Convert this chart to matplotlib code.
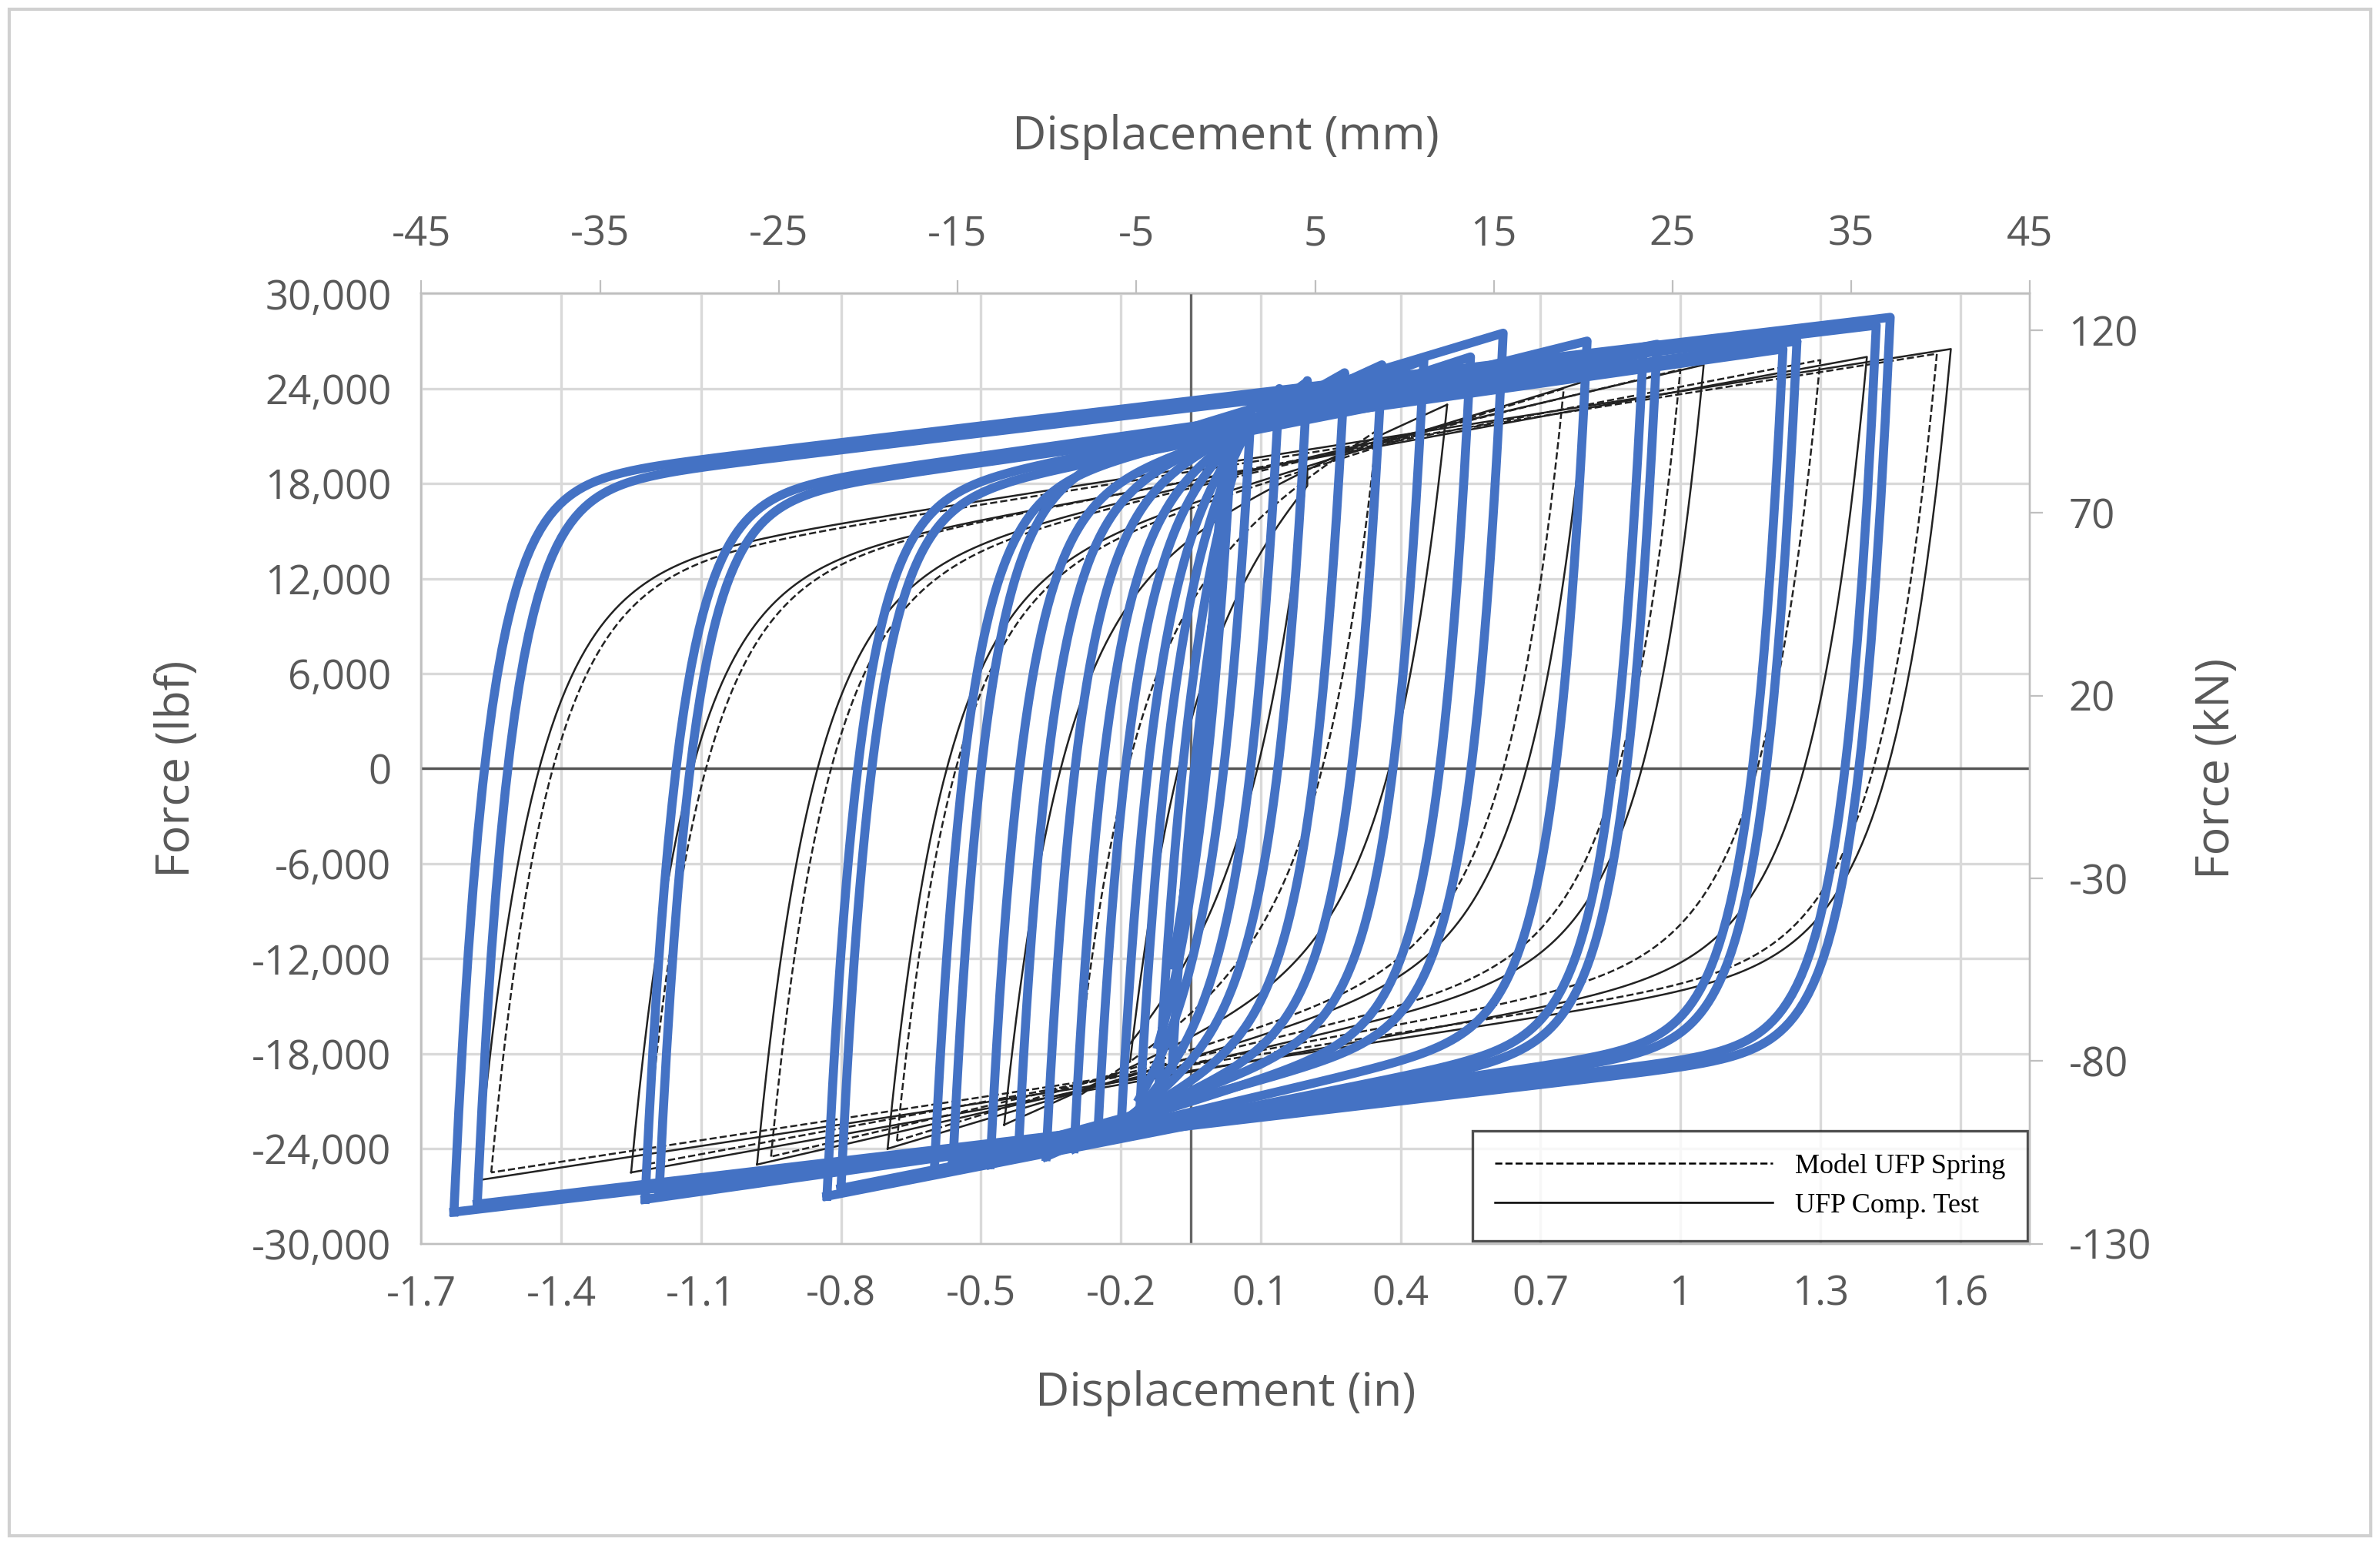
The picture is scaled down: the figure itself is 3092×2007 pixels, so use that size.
import numpy as np
import matplotlib
matplotlib.use("Agg")
import matplotlib.pyplot as plt
from matplotlib.patches import Rectangle
from matplotlib.lines import Line2D

plt.rcParams['font.family'] = ['Open Sans', 'DejaVu Sans']
plt.rcParams['axes.unicode_minus'] = False

# blue model loops: negative peak disp (in), positive peak disp (in), peak +force, peak -force (lbf)
blue_xmin = [-1.63, -1.58, -1.22, -1.19, -0.83, -0.80, -0.60, -0.56, -0.48, -0.42, -0.36, -0.30, -0.25, -0.20, -0.16, -0.12, -0.09]
blue_xmax = [1.45, 1.42, 1.25, 1.22, 0.95, 0.92, 0.80, 0.62, 0.55, 0.45, 0.36, 0.28, 0.20, 0.14, 0.08, 0.04, 0.02]
blue_fp = [28500, 28000, 27000, 26500, 26800, 26200, 27000, 27500, 26000, 25800, 25500, 25000, 24500, 24000, 23000, 22000, 20000]
blue_fn = [-28000, -27500, -27200, -26800, -27000, -26500, -25500, -25000, -25000, -24500, -24500, -24000, -23500, -23000, -22000, -21000, -19000]

# black scanned test loops
test_xmin = [-1.58, -1.55, -1.25, -1.22, -0.98, -0.95, -0.70, -0.68, -0.45, -0.30, -0.18]
test_xmax = [1.58, 1.55, 1.40, 1.30, 1.05, 1.00, 0.80, 0.75, 0.50, 0.35, 0.20]
test_fp = [26500, 26200, 26000, 25800, 25500, 25200, 24500, 24000, 23000, 21500, 19000]
test_fn = [-26000, -25500, -25500, -25000, -25000, -24500, -24000, -23500, -22500, -21000, -18500]

in_ticks = [-1.7, -1.4, -1.1, -0.8, -0.5, -0.2, 0.1, 0.4, 0.7, 1.0, 1.3, 1.6]
in_labels = ['-1.7', '-1.4', '-1.1', '-0.8', '-0.5', '-0.2', '0.1', '0.4', '0.7', '1', '1.3', '1.6']
mm_ticks = [-45, -35, -25, -15, -5, 5, 15, 25, 35, 45]
lbf_ticks = [-30000, -24000, -18000, -12000, -6000, 0, 6000, 12000, 18000, 24000, 30000]
kn_ticks = [-130, -80, -30, 20, 70, 120]


def loop(xmin, xmax, fp, fn, w=0.07, r=0.62):
    x = np.linspace(xmin, xmax, 300)
    up_line = r * fp + (fp - r * fp) * (x - xmin) / (xmax - xmin)
    up = up_line - (up_line[0] - fn) * np.exp(-(x - xmin) / w)
    dn_line = fn + (r * fn - fn) * (x - xmin) / (xmax - xmin)
    dn = dn_line + (fp - dn_line[-1]) * np.exp(-(xmax - x) / w)
    return np.r_[x, x[::-1]], np.r_[up, dn[::-1]]


fig = plt.figure(figsize=(15.46, 10.035), dpi=200)
fig.patches.append(Rectangle((0.004, 0.006), 0.992, 0.988, transform=fig.transFigure,
                             fill=False, edgecolor='#d0d0d0', linewidth=1.5))
ax = fig.add_axes([0.177, 0.195, 0.676, 0.615])
ax.set_xlim(-1.7, 1.75)
ax.set_ylim(-30000, 30000)
gray = '#595959'

for t in in_ticks:
    ax.axvline(t, color='#d9d9d9', lw=1.2, zorder=0)
for t in lbf_ticks:
    ax.axhline(t, color='#d9d9d9', lw=1.2, zorder=0)
ax.axhline(0, color='#555555', lw=1.2, zorder=1)
ax.axvline(-0.05, color='#666666', lw=1.2, zorder=1)

for i, (a, b, p, n) in enumerate(zip(test_xmin, test_xmax, test_fp, test_fn)):
    xs, ys = loop(a, b, p, n, w=0.12, r=0.45)
    ax.plot(xs, ys, color='#222222', lw=0.9, ls='--' if i % 2 else '-', zorder=2)

for a, b, p, n in zip(blue_xmin, blue_xmax, blue_fp, blue_fn):
    xs, ys = loop(a, b, p, n)
    ax.plot(xs, ys, color='#4472C4', lw=4.2, zorder=3)

leg = ax.legend(handles=[Line2D([], [], color='k', lw=0.9, ls='--'), Line2D([], [], color='k', lw=0.9)],
                labels=['Model UFP Spring', 'UFP Comp. Test'], loc='lower right',
                prop={'family': 'Liberation Serif', 'size': 13}, frameon=True, fancybox=False,
                handlelength=10, borderaxespad=0.1, borderpad=0.8)
leg.get_frame().set_edgecolor('#222222')
leg.get_frame().set_linewidth(1.2)
leg.set_zorder(4)

ax.set_xticks(in_ticks)
ax.set_xticklabels(in_labels)
ax.set_yticks(lbf_ticks)
ax.set_yticklabels([f'{v:,}' for v in lbf_ticks])
ax.tick_params(colors=gray, labelsize=19, length=0, pad=14)
for s in ax.spines.values():
    s.set_color('#bfbfbf')
ax.set_xlabel('Displacement (in)', fontsize=22, color=gray, labelpad=26)
ax.set_ylabel('Force (lbf)', fontsize=22, color=gray, labelpad=24)

top = ax.twiny()
top.set_xlim(-45, 45)
top.set_xticks(mm_ticks)
top.tick_params(colors=gray, labelsize=19, length=6, pad=12, color='#bfbfbf')
top.set_xlabel('Displacement (mm)', fontsize=22, color=gray, labelpad=30)

right = ax.twinx()
right.set_ylim(-130, 130)
right.set_yticks(kn_ticks)
right.tick_params(colors=gray, labelsize=19, length=6, pad=12, color='#bfbfbf')
right.set_ylabel('Force (kN)', fontsize=22, color=gray, labelpad=20)
for a in (top, right):
    for s in a.spines.values():
        s.set_color('#bfbfbf')

fig.savefig('out.png', dpi=200, facecolor='white')
